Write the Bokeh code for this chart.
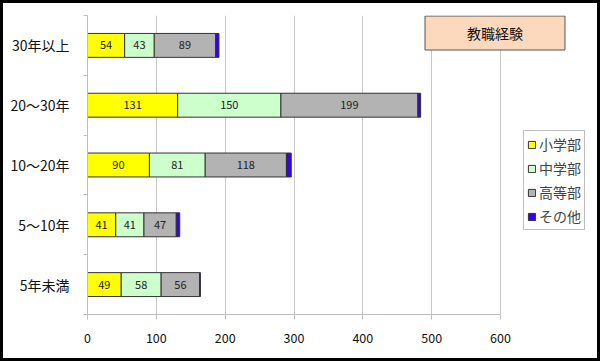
from bokeh.plotting import figure
from bokeh.layouts import column
from bokeh.models import (ColumnDataSource, FixedTicker, Label, Legend, LegendItem, Range1d)
from bokeh.core.properties import value
from bokeh.embed import file_html
from bokeh.resources import INLINE

categories = ["30年以上", "20～30年", "10～20年", "5～10年", "5年未満"]
series_names = ["小学部", "中学部", "高等部", "その他"]
elementary = [54, 131, 90, 41, 49]
junior = [43, 150, 81, 41, 58]
high = [89, 199, 118, 47, 56]
other = [5, 4, 7, 5, 1]
colors = ["#FFFF00", "#CCFFCC", "#B3B3B3", "#3300FF"]
x_ticks = [0, 100, 200, 300, 400, 500, 600]
x_max = 600
title_text = "教職経験"

FONT = "Noto Sans CJK JP"
n = len(categories)
y_pos = [n - i - 0.5 for i in range(n)]

# outer 3px black border is drawn by the wrapping column
BORDER = 3
W, H = 600 - 2 * BORDER, 361 - 2 * BORDER
B_LEFT, B_TOP = 87 - BORDER, 15 - BORDER
FRAME_H = 299
B_BOTTOM = H - B_TOP - FRAME_H
AXIS_PX = 413
frame_w = W - B_LEFT
x_end = x_max * frame_w / AXIS_PX

p = figure(width=W, height=H, x_range=Range1d(0, x_end), y_range=Range1d(0, n),
           output_backend="svg", toolbar_location=None,
           min_border_left=B_LEFT, min_border_right=0, min_border_top=B_TOP,
           min_border_bottom=B_BOTTOM)
p.outline_line_color = None
p.background_fill_color = "white"
p.border_fill_color = "white"

series = [elementary, junior, high, other]
left = [0] * n
renderers = []
for k, vals in enumerate(series):
    right = [l + v for l, v in zip(left, vals)]
    src = ColumnDataSource(dict(y=y_pos, left=left, right=right, v=vals,
                                mid=[(a + b) / 2 for a, b in zip(left, right)],
                                lab=[str(v) for v in vals]))
    r = p.hbar(y="y", left="left", right="right", height=0.4, source=src,
               fill_color=colors[k], line_color="#333333", line_width=1)
    renderers.append(r)
    if k < 3:
        p.text(x="mid", y="y", text="lab", source=src, text_align="center",
               text_baseline="middle", text_font_size="11px", text_color="#222222",
               text_font=value(FONT))
    left = right

# axes
p.xaxis.ticker = FixedTicker(ticks=x_ticks)
p.xaxis.bounds = (0, x_max)
p.xaxis.axis_line_color = "#BFBFBF"
p.xaxis.major_tick_line_color = "#BFBFBF"
p.xaxis.major_tick_out = 5
p.xaxis.major_tick_in = 0
p.xaxis.minor_tick_line_color = None
p.xaxis.major_label_text_font_size = "12.5px"
p.xaxis.major_label_text_font = FONT
p.xaxis.major_label_text_color = "#111111"
p.xaxis.major_label_standoff = 13

p.yaxis.ticker = FixedTicker(ticks=y_pos, minor_ticks=list(range(n + 1)))
p.yaxis.major_label_overrides = {y: c for y, c in zip(y_pos, categories)}
p.yaxis.axis_line_color = "#BFBFBF"
p.yaxis.major_tick_line_color = None
p.yaxis.major_tick_out = 0
p.yaxis.major_tick_in = 0
p.yaxis.minor_tick_line_color = "#BFBFBF"
p.yaxis.minor_tick_out = 4
p.yaxis.minor_tick_in = 0
p.yaxis.major_label_text_font_size = "14px"
p.yaxis.major_label_text_font = FONT
p.yaxis.major_label_text_color = "#111111"
p.yaxis.major_label_standoff = 14

p.xgrid.grid_line_color = "#C8C8C8"
p.ygrid.grid_line_color = None

legend = Legend(items=[LegendItem(label=s, renderers=[r]) for s, r in zip(series_names, renderers)],
                location=(436, 84))
legend.border_line_color = "#808080"
legend.border_line_width = 1
legend.padding = 3
legend.spacing = 4
legend.margin = 0
legend.label_height = 18
legend.glyph_height = 9
legend.glyph_width = 9
legend.label_standoff = 3
legend.label_text_font_size = "14px"
legend.label_text_font = FONT
legend.background_fill_color = "white"
legend.background_fill_alpha = 1
p.add_layout(legend)

title = Label(x=407.5, y=281.5, x_units="screen", y_units="screen", text=title_text,
              text_align="center", text_baseline="middle", text_font=FONT,
              text_font_size="14px", text_color="#111111",
              background_fill_color="#FCD9BD", border_line_color="#555555",
              padding=(42, 7))
p.add_layout(title)

layout = column(p, styles={"border": f"{BORDER}px solid black"})

open("out.html", "w").write(file_html(layout, INLINE))
